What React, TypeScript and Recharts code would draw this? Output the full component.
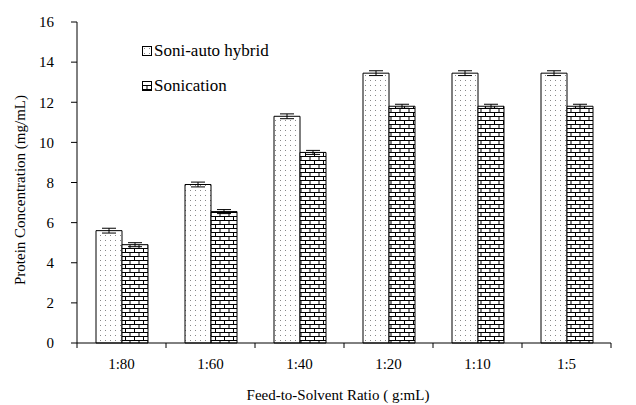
import React from 'react';
import { BarChart, Bar, XAxis, YAxis, ErrorBar, Legend } from 'recharts';

const categories = ['1:80', '1:60', '1:40', '1:20', '1:10', '1:5'];
const hybridValues = [5.6, 7.9, 11.3, 13.45, 13.45, 13.45];
const hybridErrors = [0.12, 0.12, 0.12, 0.12, 0.12, 0.12];
const sonicationValues = [4.9, 6.55, 9.5, 11.8, 11.8, 11.8];
const sonicationErrors = [0.1, 0.1, 0.1, 0.1, 0.1, 0.1];
const yTicks = [0, 2, 4, 6, 8, 10, 12, 14, 16];

const data = categories.map((c, i) => ({
  name: c,
  hybrid: hybridValues[i],
  hybridErr: hybridErrors[i],
  sonication: sonicationValues[i],
  sonicationErr: sonicationErrors[i],
}));

const W = 628;
const H = 397;
const M = { top: 14, right: 25, left: 0, bottom: 32 };
const YW = 69;
const PLOT_W = W - M.right - YW;
const BAND = PLOT_W / categories.length;
const FONT = '"Liberation Serif", "Times New Roman", serif';

const XTick = (props: any) => {
  const { x, y, payload, index } = props;
  return (
    <g>
      <line x1={x - BAND / 2} x2={x - BAND / 2} y1={y} y2={y + 5} stroke="#000" />
      {index === categories.length - 1 && (
        <line x1={x + BAND / 2} x2={x + BAND / 2} y1={y} y2={y + 5} stroke="#000" />
      )}
      <text x={x} y={y + 21} textAnchor="middle" dominantBaseline="central" fontFamily={FONT} fontSize={15} fill="#000">
        {payload.value}
      </text>
    </g>
  );
};

const LegendContent = () => (
  <div style={{ fontFamily: FONT, fontSize: 17, color: '#000', lineHeight: '20px' }}>
    {[
      { label: 'Soni-auto hybrid', fill: 'url(#dots)' },
      { label: 'Sonication', fill: 'url(#bricks)' },
    ].map((it, i) => (
      <div key={i} style={{ display: 'flex', alignItems: 'center', height: 20, marginBottom: i === 0 ? 15 : 0 }}>
        <svg width={10} height={10} style={{ marginRight: 2 }}>
          <rect x={0.5} y={0.5} width={9} height={9} fill={it.fill} stroke="#000" strokeWidth={1} />
        </svg>
        <span>{it.label}</span>
      </div>
    ))}
  </div>
);

export default function App() {
  return (
    <div style={{ position: 'relative', width: W, height: H }}>
      <svg width={0} height={0} style={{ position: 'absolute' }}>
        <defs>
          <pattern id="dots" width={5} height={5} patternUnits="userSpaceOnUse">
            <rect width={5} height={5} fill="#fff" />
            <rect x={2} y={2} width={1} height={1} fill="#888" />
          </pattern>
          <pattern id="bricks" width={9} height={8} patternUnits="userSpaceOnUse">
            <rect width={9} height={8} fill="#fff" />
            <path d="M0 0.5H9 M0 4.5H9 M0.5 0.5V4.5 M5 4.5V8.5" stroke="#000" strokeWidth={1} fill="none" />
          </pattern>
        </defs>
      </svg>
      <BarChart width={W} height={H} data={data} margin={M} barGap={0}>
        <XAxis
          dataKey="name"
          axisLine={{ stroke: '#000' }}
          tickLine={false}
          tickSize={0}
          tickMargin={0}
          tick={<XTick />}
          height={30}
          interval={0}
        />
        <YAxis
          domain={[0, 16]}
          ticks={yTicks}
          width={YW}
          axisLine={{ stroke: '#000' }}
          tickLine={{ stroke: '#000' }}
          tickSize={6}
          tickMargin={17}
          tick={{ fontFamily: FONT, fontSize: 15, fill: '#000' }}
          interval={0}
        />
        <Legend
          layout="horizontal"
          verticalAlign="middle"
          align="center"
          content={<LegendContent />}
          wrapperStyle={{ left: 134, top: 33, width: 200 }}
        />
        <Bar dataKey="hybrid" name="Soni-auto hybrid" barSize={26} fill="url(#dots)" stroke="#000" strokeWidth={1} isAnimationActive={false}>
          <ErrorBar dataKey="hybridErr" width={7} stroke="#000" strokeWidth={1} direction="y" />
        </Bar>
        <Bar dataKey="sonication" name="Sonication" barSize={26} fill="url(#bricks)" stroke="#000" strokeWidth={1} isAnimationActive={false}>
          <ErrorBar dataKey="sonicationErr" width={7} stroke="#000" strokeWidth={1} direction="y" />
        </Bar>
      </BarChart>
      <svg width={W} height={H} style={{ position: 'absolute', left: 0, top: 0, pointerEvents: 'none' }}>
        <text x={12} y={182} transform="rotate(-90 12 182)" textAnchor="middle" dominantBaseline="central" fontFamily={FONT} fontSize={15} fill="#000">
          Protein Concentration (mg/mL)
        </text>
        <text x={330} y={387} textAnchor="middle" dominantBaseline="central" fontFamily={FONT} fontSize={15} fill="#000">
          Feed-to-Solvent Ratio ( g:mL)
        </text>
      </svg>
    </div>
  );
}
